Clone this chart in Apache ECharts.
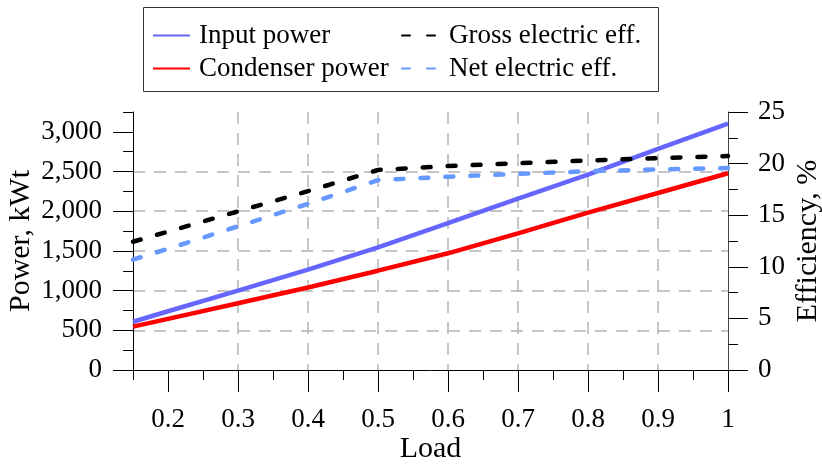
<!DOCTYPE html>
<html>
<head>
<meta charset="utf-8">
<script src="https://cdn.jsdelivr.net/npm/echarts@6/dist/echarts.min.js"></script>
<style>
  html, body { margin: 0; padding: 0; background: #fff; }
  #chart { width: 822px; height: 464px; }
</style>
</head>
<body>
<div id="chart"></div>
<script>
// Load fraction and measured series
const load = [0.15, 0.2, 0.3, 0.4, 0.5, 0.6, 0.7, 0.8, 0.9, 1.0];
const inputPower = [608, 740, 1000, 1265, 1545, 1850, 2160, 2460, 2785, 3105];
const condenserPower = [546, 644, 840, 1040, 1251, 1470, 1722, 1982, 2230, 2478];
const grossEff = [12.43, 13.41, 15.37, 17.33, 19.38, 19.76, 20.03, 20.3, 20.53, 20.74];
const netEff = [10.7, 11.74, 13.92, 16.1, 18.4, 18.73, 19.0, 19.26, 19.43, 19.57];

// Tick positions
const loadTicks = [0.2, 0.3, 0.4, 0.5, 0.6, 0.7, 0.8, 0.9, 1.0];
const loadMinorTicks = [0.15, 0.25, 0.35, 0.45, 0.55, 0.65, 0.75, 0.85, 0.95];
const powerTicks = [0, 500, 1000, 1500, 2000, 2500, 3000];
const powerMinorTicks = [250, 750, 1250, 1750, 2250, 2750, 3250];

const FONT = 'Liberation Serif';
const pairs = (ys) => load.map((x, i) => [x, ys[i]]);

const chart = echarts.init(document.getElementById('chart'), null, { renderer: 'canvas' });

const axisText = { color: '#000', fontFamily: FONT, fontSize: 27 };
const nameText = { color: '#000', fontFamily: FONT, fontSize: 30 };
const legendText = { color: '#000', fontFamily: FONT, fontSize: 27, lineHeight: 27 };
const gridDash = { color: '#b4b4b4', width: 1.5, type: [12, 9] };
const dashed = [8, 17];

chart.setOption({
  animation: false,
  backgroundColor: '#fff',
  grid: { left: 133, right: 94, top: 112, bottom: 94, containLabel: false, outerBoundsMode: 'none' },
  graphic: [{
    type: 'rect',
    shape: { x: 143.5, y: 7.5, width: 515, height: 84 },
    style: { fill: 'none', stroke: '#333', lineWidth: 1 },
    silent: true
  }],
  legend: [{
    data: ['Input power', 'Condenser power'],
    orient: 'vertical', left: 152, top: 22, padding: 0,
    itemWidth: 37, itemHeight: 14, itemGap: 6,
    itemStyle: { opacity: 0 },
    textStyle: { ...legendText, padding: [0, 0, 0, 4] }
  }, {
    data: ['Gross electric eff.', 'Net electric eff.'],
    orient: 'vertical', left: 401, top: 22, padding: 0,
    itemWidth: 37, itemHeight: 14, itemGap: 6,
    itemStyle: { opacity: 0 },
    textStyle: { ...legendText, padding: [0, 0, 0, 5] }
  }],
  xAxis: [{
    type: 'value', min: 0.15, max: 1, position: 'bottom',
    name: 'Load', nameLocation: 'middle', nameGap: 64, nameMoveOverlap: false,
    nameTextStyle: nameText,
    axisLine: { show: true, lineStyle: { color: '#000', width: 1 } },
    axisTick: { show: true, inside: false, length: 22, customValues: loadTicks, lineStyle: { color: '#000' } },
    axisLabel: { show: true, margin: 36, customValues: loadTicks, formatter: (v) => String(+v.toFixed(2)), ...axisText },
    splitLine: { show: true, showMinLine: false, showMaxLine: false, lineStyle: gridDash }
  }, {
    type: 'value', min: 0.15, max: 1, position: 'bottom',
    axisLine: { show: false },
    axisTick: { show: true, length: 10, customValues: loadMinorTicks, lineStyle: { color: '#000' } },
    axisLabel: { show: false },
    splitLine: { show: false }
  }],
  yAxis: [{
    type: 'value', min: 0, max: 3250, position: 'left',
    name: 'Power, kWt', nameLocation: 'middle', nameGap: 97, nameMoveOverlap: false,
    nameTextStyle: nameText,
    axisLine: { show: true, lineStyle: { color: '#000', width: 1 } },
    axisTick: { show: true, length: 20, customValues: powerTicks, lineStyle: { color: '#000' } },
    axisLabel: {
      show: true, margin: 31, customValues: powerTicks,
      formatter: (v) => Number(v).toLocaleString('en-US'), ...axisText
    },
    splitLine: { show: true, showMinLine: false, showMaxLine: false, lineStyle: gridDash }
  }, {
    type: 'value', min: 0, max: 25, interval: 5, position: 'right',
    name: 'Efficiency, %', nameLocation: 'middle', nameGap: 65, nameMoveOverlap: false,
    nameTextStyle: nameText,
    axisLine: { show: true, lineStyle: { color: '#444', width: 1 } },
    axisTick: { show: true, length: 20, lineStyle: { color: '#000' } },
    minorTick: { show: true, splitNumber: 2, length: 10, lineStyle: { color: '#000' } },
    axisLabel: { show: true, margin: 30, ...axisText },
    splitLine: { show: false }
  }, {
    type: 'value', min: 0, max: 3250, position: 'left',
    axisLine: { show: false },
    axisTick: { show: true, length: 10, customValues: powerMinorTicks, lineStyle: { color: '#000' } },
    axisLabel: { show: false },
    splitLine: { show: false }
  }],
  series: [{
    name: 'Input power', type: 'line', xAxisIndex: 0, yAxisIndex: 0,
    data: pairs(inputPower), symbol: 'none',
    itemStyle: { color: '#6666ff' },
    lineStyle: { color: '#6666ff', width: 4.5 }
  }, {
    name: 'Condenser power', type: 'line', xAxisIndex: 0, yAxisIndex: 0,
    data: pairs(condenserPower), symbol: 'none',
    itemStyle: { color: '#ff0000' },
    lineStyle: { color: '#ff0000', width: 4.5 }
  }, {
    name: 'Gross electric eff.', type: 'line', xAxisIndex: 0, yAxisIndex: 1,
    data: pairs(grossEff), symbol: 'none',
    itemStyle: { color: '#000000' },
    lineStyle: { color: '#000000', width: 4.5, type: dashed, cap: 'round' }
  }, {
    name: 'Net electric eff.', type: 'line', xAxisIndex: 0, yAxisIndex: 1,
    data: pairs(netEff), symbol: 'none',
    itemStyle: { color: '#6699ff' },
    lineStyle: { color: '#6699ff', width: 4.5, type: dashed, cap: 'round' }
  }]
});
</script>
</body>
</html>
